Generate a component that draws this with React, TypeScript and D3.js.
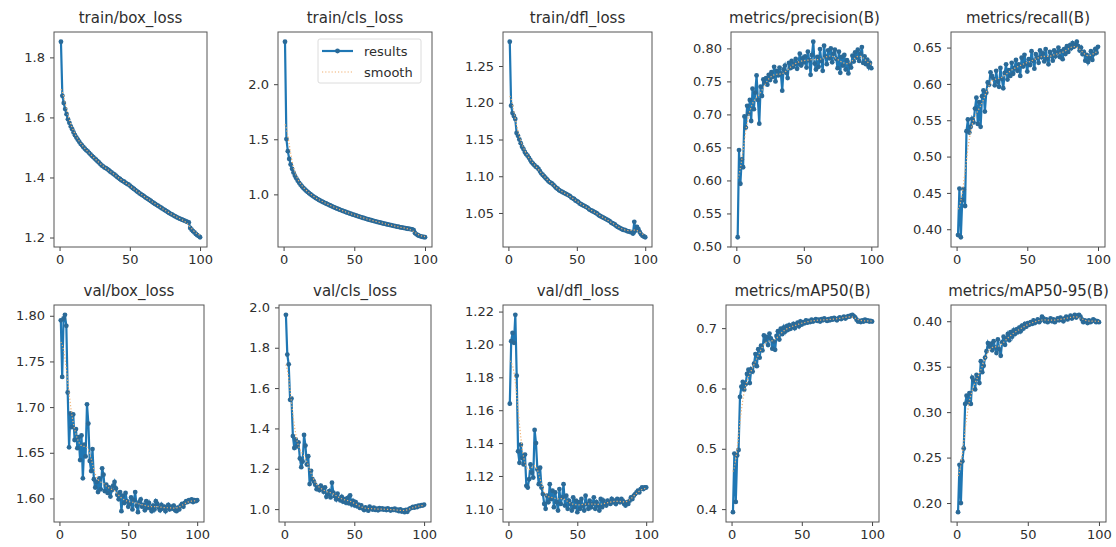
import * as d3 from "d3";
import React, { useRef, useEffect } from "react";

// epochs 1..100
const epochs = d3.range(1, 101);

const trainBoxLoss = [
  1.852, 1.672, 1.648, 1.628, 1.611, 1.594, 1.582, 1.570, 1.561, 1.550,
  1.541, 1.533, 1.526, 1.519, 1.512, 1.507, 1.501, 1.496, 1.491, 1.487,
  1.482, 1.477, 1.472, 1.468, 1.463, 1.459, 1.454, 1.450, 1.445, 1.440,
  1.437, 1.433, 1.431, 1.428, 1.424, 1.420, 1.417, 1.413, 1.410, 1.406,
  1.402, 1.398, 1.395, 1.391, 1.388, 1.386, 1.382, 1.379, 1.377, 1.373,
  1.369, 1.365, 1.362, 1.358, 1.354, 1.351, 1.347, 1.344, 1.341, 1.338,
  1.334, 1.331, 1.328, 1.325, 1.322, 1.318, 1.315, 1.312, 1.309, 1.306,
  1.303, 1.300, 1.297, 1.294, 1.291, 1.288, 1.285, 1.282, 1.279, 1.277,
  1.274, 1.271, 1.269, 1.266, 1.264, 1.262, 1.260, 1.258, 1.256, 1.254,
  1.252, 1.250, 1.232, 1.226, 1.221, 1.217, 1.212, 1.208, 1.205, 1.201,
];

const trainClsLoss = [
  2.385, 1.502, 1.392, 1.322, 1.271, 1.232, 1.198, 1.170, 1.146, 1.124,
  1.105, 1.088, 1.072, 1.058, 1.045, 1.033, 1.022, 1.011, 1.001, 0.991,
  0.982, 0.973, 0.965, 0.957, 0.950, 0.943, 0.936, 0.929, 0.923, 0.917,
  0.911, 0.905, 0.899, 0.893, 0.887, 0.881, 0.876, 0.870, 0.865, 0.860,
  0.855, 0.850, 0.845, 0.840, 0.835, 0.831, 0.826, 0.822, 0.817, 0.813,
  0.809, 0.804, 0.800, 0.796, 0.792, 0.788, 0.784, 0.780, 0.776, 0.772,
  0.769, 0.765, 0.762, 0.758, 0.755, 0.751, 0.748, 0.745, 0.741, 0.738,
  0.735, 0.732, 0.729, 0.726, 0.723, 0.720, 0.717, 0.714, 0.711, 0.708,
  0.706, 0.703, 0.700, 0.698, 0.695, 0.693, 0.690, 0.688, 0.686, 0.684,
  0.682, 0.675, 0.648, 0.637, 0.629, 0.623, 0.619, 0.615, 0.613, 0.611,
];

const trainDflLoss = [
  1.283, 1.196, 1.186, 1.182, 1.178, 1.159, 1.155, 1.150, 1.145, 1.140,
  1.137, 1.133, 1.130, 1.128, 1.125, 1.122, 1.119, 1.117, 1.115, 1.113,
  1.112, 1.110, 1.107, 1.104, 1.102, 1.100, 1.098, 1.096, 1.094, 1.092,
  1.091, 1.090, 1.088, 1.086, 1.084, 1.083, 1.081, 1.080, 1.079, 1.078,
  1.077, 1.076, 1.075, 1.074, 1.073, 1.071, 1.070, 1.069, 1.067, 1.066,
  1.065, 1.063, 1.062, 1.061, 1.060, 1.059, 1.058, 1.057, 1.055, 1.054,
  1.053, 1.052, 1.051, 1.050, 1.049, 1.047, 1.046, 1.045, 1.044, 1.043,
  1.042, 1.041, 1.040, 1.039, 1.037, 1.036, 1.035, 1.034, 1.032, 1.031,
  1.030, 1.029, 1.028, 1.027, 1.027, 1.026, 1.025, 1.025, 1.024, 1.024,
  1.022, 1.038, 1.026, 1.031, 1.028, 1.024, 1.021, 1.019, 1.018, 1.017,
];

const precision = [
  0.514, 0.646, 0.595, 0.632, 0.620, 0.697, 0.680, 0.713, 0.701, 0.722,
  0.690, 0.739, 0.708, 0.733, 0.759, 0.722, 0.686, 0.742, 0.728, 0.753,
  0.748, 0.755, 0.745, 0.760, 0.752, 0.764, 0.757, 0.772, 0.750, 0.766,
  0.759, 0.771, 0.762, 0.736, 0.768, 0.774, 0.763, 0.755, 0.778, 0.770,
  0.781, 0.772, 0.776, 0.784, 0.769, 0.778, 0.792, 0.774, 0.785, 0.779,
  0.788, 0.771, 0.795, 0.782, 0.760, 0.790, 0.810, 0.777, 0.768, 0.787,
  0.772, 0.799, 0.781, 0.766, 0.804, 0.788, 0.776, 0.797, 0.785, 0.800,
  0.779, 0.792, 0.798, 0.784, 0.770, 0.795, 0.763, 0.787, 0.774, 0.790,
  0.768, 0.782, 0.762, 0.776, 0.771, 0.789, 0.780, 0.794, 0.786, 0.798,
  0.781, 0.792, 0.802, 0.778, 0.788, 0.776, 0.783, 0.772, 0.778, 0.770,
];

const recall = [
  0.392, 0.456, 0.389, 0.440, 0.455, 0.432, 0.535, 0.551, 0.533, 0.541,
  0.552, 0.547, 0.566, 0.581, 0.545, 0.575, 0.541, 0.583, 0.591, 0.562,
  0.588, 0.602, 0.599, 0.616, 0.611, 0.607, 0.598, 0.618, 0.603, 0.596,
  0.622, 0.607, 0.594, 0.615, 0.627, 0.606, 0.619, 0.611, 0.629, 0.614,
  0.622, 0.633, 0.618, 0.627, 0.611, 0.636, 0.624, 0.640, 0.628, 0.617,
  0.634, 0.626, 0.645, 0.632, 0.621, 0.641, 0.636, 0.629, 0.646, 0.637,
  0.642, 0.631, 0.648, 0.635, 0.627, 0.644, 0.639, 0.632, 0.646, 0.638,
  0.643, 0.650, 0.637, 0.645, 0.634, 0.648, 0.641, 0.652, 0.644, 0.653,
  0.649, 0.656, 0.651, 0.654, 0.658, 0.652, 0.646, 0.650, 0.641, 0.644,
  0.632, 0.640, 0.630, 0.636, 0.645, 0.633, 0.641, 0.648, 0.643, 0.651,
];

const valBoxLoss = [
  1.795, 1.733, 1.797, 1.801, 1.789, 1.716, 1.656, 1.693, 1.678, 1.692,
  1.664, 1.676, 1.655, 1.667, 1.642, 1.669, 1.622, 1.659, 1.646, 1.703,
  1.682, 1.641, 1.630, 1.654, 1.621, 1.612, 1.618, 1.607, 1.622, 1.610,
  1.633, 1.626, 1.608, 1.615, 1.606, 1.612, 1.602, 1.609, 1.614, 1.618,
  1.611, 1.604, 1.599, 1.607, 1.586, 1.603, 1.595, 1.606, 1.597, 1.591,
  1.594, 1.601, 1.588, 1.598, 1.607, 1.592, 1.585, 1.596, 1.599, 1.591,
  1.593, 1.587, 1.597, 1.590, 1.595, 1.589, 1.586, 1.592, 1.588, 1.597,
  1.594, 1.590, 1.587, 1.593, 1.589, 1.591, 1.586, 1.590, 1.593, 1.588,
  1.591, 1.589, 1.592, 1.587, 1.586, 1.590, 1.588, 1.592, 1.594, 1.591,
  1.595, 1.597, 1.596, 1.598, 1.597, 1.599, 1.596, 1.598, 1.597, 1.598,
];

const valClsLoss = [
  1.963, 1.766, 1.718, 1.542, 1.548, 1.362, 1.303, 1.345, 1.312, 1.331,
  1.251, 1.208, 1.236, 1.368, 1.315, 1.221, 1.262, 1.124, 1.190, 1.148,
  1.137, 1.121, 1.099, 1.108, 1.094, 1.116, 1.103, 1.086, 1.108, 1.061,
  1.073, 1.089, 1.058, 1.131, 1.082, 1.064, 1.048, 1.077, 1.052, 1.043,
  1.061, 1.037, 1.049, 1.032, 1.054, 1.029, 1.068, 1.024, 1.041, 1.019,
  1.035, 1.014, 1.022, 1.006, 1.018, 1.003, 0.995, 1.009, 1.001, 0.992,
  1.012, 1.004, 0.998, 1.007, 0.996, 1.002, 0.994, 1.005, 0.999, 1.003,
  0.997, 1.001, 0.995, 1.004, 0.998, 0.993, 1.000, 0.996, 1.002, 0.994,
  0.997, 0.990, 0.999, 0.988, 0.993, 0.985, 0.996, 0.987, 0.998, 1.004,
  1.006, 1.011, 1.008, 1.014, 1.010, 1.017, 1.015, 1.020, 1.018, 1.022,
];

const valDflLoss = [
  1.164, 1.202, 1.207, 1.201, 1.218, 1.181, 1.135, 1.128, 1.139, 1.131,
  1.127, 1.133, 1.114, 1.113, 1.118, 1.127, 1.122, 1.119, 1.148, 1.140,
  1.124, 1.115, 1.125, 1.113, 1.109, 1.103, 1.100, 1.108, 1.104, 1.115,
  1.106, 1.111, 1.101, 1.110, 1.104, 1.099, 1.112, 1.103, 1.107, 1.115,
  1.102, 1.108, 1.100, 1.105, 1.103, 1.099, 1.107, 1.101, 1.105, 1.098,
  1.104, 1.100, 1.106, 1.102, 1.099, 1.108, 1.103, 1.100, 1.105, 1.101,
  1.103, 1.107, 1.100, 1.104, 1.102, 1.099, 1.106, 1.101, 1.105, 1.103,
  1.102, 1.105, 1.104, 1.103, 1.106, 1.104, 1.105, 1.103, 1.106, 1.105,
  1.104, 1.106, 1.105, 1.103, 1.102, 1.104, 1.103, 1.105, 1.107, 1.106,
  1.108, 1.109, 1.110, 1.111, 1.110, 1.112, 1.113, 1.112, 1.113, 1.113,
];

const mAP50 = [
  0.395, 0.492, 0.412, 0.489, 0.498, 0.586, 0.603, 0.611, 0.598, 0.607,
  0.624, 0.631, 0.609, 0.632, 0.628, 0.641, 0.657, 0.637, 0.665, 0.651,
  0.671, 0.663, 0.688, 0.679, 0.685, 0.672, 0.691, 0.683, 0.666, 0.678,
  0.664, 0.687, 0.695, 0.681, 0.699, 0.690, 0.701, 0.694, 0.703, 0.697,
  0.705, 0.699, 0.702, 0.707, 0.700, 0.706, 0.709, 0.703, 0.711, 0.706,
  0.710, 0.708, 0.713, 0.709, 0.712, 0.710, 0.714, 0.711, 0.713, 0.715,
  0.712, 0.714, 0.711, 0.715, 0.713, 0.716, 0.714, 0.712, 0.715, 0.713,
  0.716, 0.714, 0.717, 0.715, 0.713, 0.716, 0.718, 0.715, 0.717, 0.719,
  0.716, 0.718, 0.720, 0.719, 0.721, 0.722, 0.720, 0.718, 0.714, 0.711,
  0.712, 0.710, 0.713, 0.711, 0.714, 0.712, 0.713, 0.711, 0.712, 0.711,
];

const mAP5095 = [
  0.190, 0.242, 0.200, 0.246, 0.260, 0.309, 0.318, 0.311, 0.321, 0.309,
  0.338, 0.335, 0.325, 0.341, 0.337, 0.332, 0.356, 0.344, 0.351, 0.360,
  0.367, 0.376, 0.372, 0.375, 0.368, 0.378, 0.371, 0.365, 0.380, 0.369,
  0.362, 0.377, 0.383, 0.374, 0.381, 0.386, 0.379, 0.388, 0.383, 0.390,
  0.386, 0.391, 0.388, 0.393, 0.389, 0.395, 0.392, 0.397, 0.394, 0.398,
  0.396, 0.399, 0.397, 0.401, 0.398, 0.400, 0.402, 0.399, 0.401, 0.405,
  0.403, 0.400, 0.402, 0.399, 0.401, 0.403, 0.400, 0.402, 0.399, 0.401,
  0.403, 0.401, 0.404, 0.402, 0.400, 0.403, 0.405, 0.402, 0.404, 0.406,
  0.403, 0.405, 0.407, 0.404, 0.406, 0.407, 0.405, 0.402, 0.399, 0.401,
  0.400, 0.398, 0.401, 0.399, 0.400, 0.402, 0.401, 0.399, 0.400, 0.399,
];

const titles = [
  "train/box_loss", "train/cls_loss", "train/dfl_loss", "metrics/precision(B)", "metrics/recall(B)",
  "val/box_loss", "val/cls_loss", "val/dfl_loss", "metrics/mAP50(B)", "metrics/mAP50-95(B)",
];
const series = [
  trainBoxLoss, trainClsLoss, trainDflLoss, precision, recall,
  valBoxLoss, valClsLoss, valDflLoss, mAP50, mAP5095,
];
const yTickLabels = [
  ["1.2", "1.4", "1.6", "1.8"],
  ["1.0", "1.5", "2.0"],
  ["1.05", "1.10", "1.15", "1.20", "1.25"],
  ["0.50", "0.55", "0.60", "0.65", "0.70", "0.75", "0.80"],
  ["0.40", "0.45", "0.50", "0.55", "0.60", "0.65"],
  ["1.60", "1.65", "1.70", "1.75", "1.80"],
  ["1.0", "1.2", "1.4", "1.6", "1.8", "2.0"],
  ["1.10", "1.12", "1.14", "1.16", "1.18", "1.20", "1.22"],
  ["0.4", "0.5", "0.6", "0.7"],
  ["0.20", "0.25", "0.30", "0.35", "0.40"],
];
const xTickLabels = ["0", "50", "100"];

// axes boxes in pixels [left, right], per row [top, bottom]
const colsTop = [[54, 207], [278, 432], [503, 652], [731, 878], [951, 1105]];
const colsBottom = [[54, 204], [279, 431], [503, 653], [726, 879], [951, 1106]];
const rows = [[32, 247], [305, 522]];

const BLUE = "#1f77b4";
const DOT = "#2a6a98";
const ORANGE = "#f0b070";
const INK = "#2e2e2e";
const FONT = "DejaVu Sans, sans-serif";

// same as scipy gaussian_filter1d(sigma=3), reflect mode
function gaussianSmooth(y: number[], sigma = 3) {
  const radius = Math.round(4 * sigma);
  const w = d3.range(-radius, radius + 1).map((k) => Math.exp(-0.5 * (k / sigma) ** 2));
  const s = d3.sum(w);
  const n = y.length;
  const reflect = (i: number) => {
    while (i < 0 || i >= n) {
      if (i < 0) i = -i - 1;
      if (i >= n) i = 2 * n - i - 1;
    }
    return i;
  };
  return y.map((_, i) => d3.sum(w, (wk, j) => wk * y[reflect(i + j - radius)]) / s);
}

const App = () => {
  const ref = useRef<SVGSVGElement>(null);

  useEffect(() => {
    if (!ref.current) return;
    const svg = d3.select(ref.current);
    svg.selectAll("*").remove();
    svg.append("rect").attr("width", 1116).attr("height", 547).attr("fill", "#fff");

    series.forEach((values, i) => {
      const row = i < 5 ? 0 : 1;
      const [left, right] = row === 0 ? colsTop[i] : colsBottom[i - 5];
      const [top, bottom] = rows[row];
      const smooth = gaussianSmooth(values);

      const xPad = (100 - 1) * 0.05;
      const x = d3.scaleLinear().domain([1 - xPad, 100 + xPad]).range([left, right]);
      const [lo, hi] = d3.extent(values) as [number, number];
      const yPad = (hi - lo) * 0.05;
      const y = d3.scaleLinear().domain([lo - yPad, hi + yPad]).range([bottom, top]);

      const g = svg.append("g");

      // axes
      const xAxis = g
        .append("g")
        .attr("transform", `translate(0,${bottom})`)
        .call(
          d3.axisBottom(x)
            .tickValues(xTickLabels.map(Number))
            .tickFormat((d) => String(d))
            .tickSize(4)
            .tickPadding(4)
        );
      const yAxis = g
        .append("g")
        .attr("transform", `translate(${left},0)`)
        .call(
          d3.axisLeft(y)
            .tickValues(yTickLabels[i].map(Number))
            .tickFormat((d, k) => yTickLabels[i][k])
            .tickSize(4)
            .tickPadding(5)
        );
      [xAxis, yAxis].forEach((a) => {
        a.select(".domain").remove();
        a.selectAll("line").attr("stroke", "#444").attr("stroke-width", 1);
        a.selectAll("text")
          .attr("fill", INK)
          .style("font-family", FONT)
          .style("font-size", "13px");
      });

      const line = d3
        .line<number>()
        .x((d, k) => x(epochs[k]))
        .y((d) => y(d));

      g.append("path")
        .datum(values)
        .attr("fill", "none")
        .attr("stroke", BLUE)
        .attr("stroke-width", 2.2)
        .attr("d", line);

      g.selectAll(".dot")
        .data(values)
        .enter()
        .append("circle")
        .attr("cx", (d, k) => x(epochs[k]))
        .attr("cy", (d) => y(d))
        .attr("r", 2.4)
        .attr("fill", DOT);

      g.append("path")
        .datum(smooth)
        .attr("fill", "none")
        .attr("stroke", ORANGE)
        .attr("stroke-width", 1.2)
        .attr("stroke-dasharray", "1.2,2")
        .attr("d", line);

      // frame
      g.append("rect")
        .attr("x", left)
        .attr("y", top)
        .attr("width", right - left)
        .attr("height", bottom - top)
        .attr("fill", "none")
        .attr("stroke", "#555")
        .attr("stroke-width", 1);

      g.append("text")
        .attr("x", (left + right) / 2)
        .attr("y", top - 9)
        .attr("text-anchor", "middle")
        .attr("fill", INK)
        .style("font-family", FONT)
        .style("font-size", "15px")
        .text(titles[i]);

      // legend only in the second panel
      if (i === 1) {
        const lg = g.append("g").attr("transform", `translate(${right - 114},${top + 7})`);
        lg.append("rect")
          .attr("width", 103)
          .attr("height", 44)
          .attr("rx", 2)
          .attr("fill", "#fff")
          .attr("fill-opacity", 0.8)
          .attr("stroke", "#dcdcdc");
        lg.append("line").attr("x1", 4).attr("x2", 35).attr("y1", 12).attr("y2", 12)
          .attr("stroke", BLUE).attr("stroke-width", 2.2);
        lg.append("circle").attr("cx", 19.5).attr("cy", 12).attr("r", 2.4).attr("fill", DOT);
        lg.append("line").attr("x1", 4).attr("x2", 35).attr("y1", 33).attr("y2", 33)
          .attr("stroke", ORANGE).attr("stroke-width", 1.2).attr("stroke-dasharray", "1.2,2");
        ["results", "smooth"].forEach((t, k) => {
          lg.append("text")
            .attr("x", 46)
            .attr("y", 12 + k * 21)
            .attr("dy", "0.35em")
            .attr("fill", INK)
            .style("font-family", FONT)
            .style("font-size", "13px")
            .text(t);
        });
      }
    });
  }, []);

  return (
    <svg
      ref={ref}
      width={1116}
      height={547}
      style={{ position: "absolute", left: 0, top: 0 }}
    />
  );
};

export default App;
